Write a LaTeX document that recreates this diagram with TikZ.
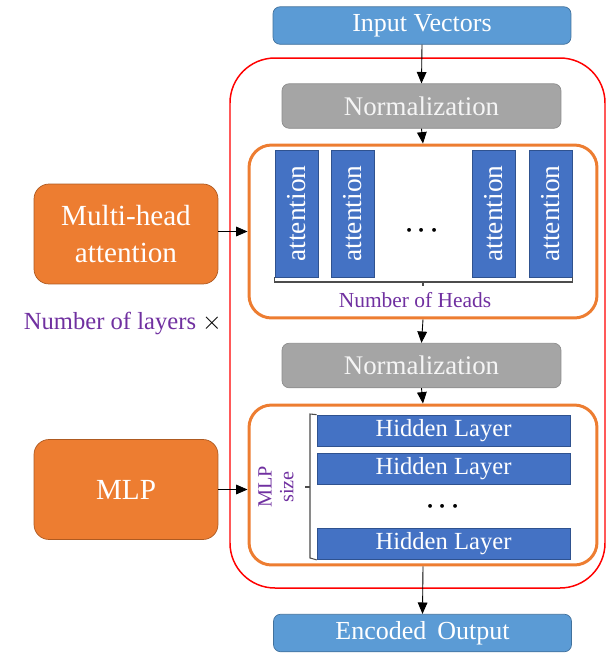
\documentclass[tikz,border=0pt]{standalone}
\usepackage{fontspec}
\setmainfont{Liberation Serif}
\usetikzlibrary{arrows.meta}

\definecolor{inblue}{HTML}{5B9BD5}
\definecolor{inborder}{HTML}{41719C}
\definecolor{attblue}{HTML}{4472C4}
\definecolor{attborder}{HTML}{2F528F}
\definecolor{normgray}{HTML}{A5A5A5}
\definecolor{normborder}{HTML}{8C8C8C}
\definecolor{boxorange}{HTML}{ED7D31}
\definecolor{orangeborder}{HTML}{AE5A21}
\definecolor{labelpurple}{HTML}{7030A0}

\tikzset{
  iobox/.style={draw=inborder, fill=inblue, rounded corners=4pt, minimum width=5.96cm, minimum height=0.75cm, inner sep=0pt, text=white, font=\fontsize{14.8}{17}\selectfont},
  normbox/.style={draw=normborder, fill=normgray, rounded corners=4pt, minimum width=5.58cm, minimum height=0.89cm, inner sep=0pt, text=white!92!gray, font=\fontsize{15.3}{17}\selectfont},
  headbox/.style={draw=attborder, fill=attblue, rotate=90, minimum width=2.54cm, minimum height=0.86cm, inner sep=0pt, text=white, font=\fontsize{15.6}{17}\selectfont},
  hiddenbox/.style={draw=attborder, fill=attblue, minimum width=5.06cm, minimum height=0.62cm, inner sep=0pt, text=white, font=\fontsize{14}{15}\selectfont},
  blockbox/.style={draw=boxorange, line width=1.7pt, rounded corners=0.45cm, minimum width=6.96cm},
  sidebox/.style={draw=orangeborder, fill=boxorange, rounded corners=0.3cm, minimum width=3.68cm, minimum height=2.0cm, inner sep=0pt, text=white, align=center, font=\fontsize{16.6}{21}\selectfont},
  purplelabel/.style={text=labelpurple, inner sep=0pt},
  dotsnode/.style={inner sep=0pt, font=\fontsize{20}{20}\selectfont},
  flow/.style={-{Triangle[length=6.5pt, width=5.5pt]}, black, line width=0.5pt},
  bracket/.style={black!70, line width=0.6pt}
}

\begin{document}
\begin{tikzpicture}[x=0.02cm, y=-0.02cm]
    \useasboundingbox (0,0) rectangle (607,654);

    % encoder layer frame
    \draw [red, line width=0.85pt, rounded corners=0.9cm] (230,58) rectangle (605,588);

    \node [iobox] (inp) at (422,25.5) {Input Vectors};
    \node [normbox] (norm1) at (421.5,106) {Normalization};

    % attention heads
    \node [blockbox, minimum height=3.46cm] (heads) at (423,231.5) {};
    \node [headbox] (att1) at (296.5,213.5) {attention};
    \node [headbox] (att2) at (353,213.5) {attention};
    \node [headbox] (att3) at (493.5,213.5) {attention};
    \node [headbox] (att4) at (550.5,213.5) {attention};
    \node [dotsnode] (hdots) at (422,231) {$\cdot\!\cdot\!\cdot$};
    \draw [bracket] (att1.north |- 0,277) -- (att1.north |- 0,282) -- (att4.south |- 0,282) -- (att4.south |- 0,277);
    \draw [bracket] (423,282) -- (423,286);
    \node [purplelabel, font=\fontsize{12.2}{14}\selectfont] (nheads) at (415,300) {Number of Heads};

    \node [normbox] (norm2) at (421.5,365.5) {Normalization};

    % mlp block
    \node [blockbox, minimum height=3.2cm] (mlpblock) at (423,485) {};
    \node [hiddenbox] (hid1) at (443.5,430.5) {Hidden Layer};
    \node [hiddenbox] (hid2) at (443.5,468.5) {Hidden Layer};
    \node [dotsnode] (vdots) at (443,507) {$\cdot\!\cdot\!\cdot$};
    \node [hiddenbox] (hid3) at (443.5,544) {Hidden Layer};
    \draw [bracket] (hid1.north west) -- (310,414) -- (310,558) -- (hid3.south west);
    \draw [bracket] (310,487) -- (305,487);
    \node [purplelabel, rotate=90, align=center, font=\fontsize{11.5}{12.5}\selectfont] (mlpsize) at (276,487) {MLP\\size};

    \node [iobox] (out) at (422.5,633) {Encoded\, Output};

    % side blocks
    \node [sidebox] (mha) at (126,234) {Multi-head\\attention};
    \node [sidebox] (mlp) at (126,489.5) {MLP};
    \node [purplelabel, font=\fontsize{14}{15}\selectfont] (nlayers) at (110,323) {Number of layers};
    \node [inner sep=0pt, font=\fontsize{13.6}{15}\selectfont] (times) at (212,323) {$\times$};

    % connectors
    \draw [flow] (inp.south) -- (norm1.north);
    \draw [flow] (norm1.south) -- (heads.north);
    \draw [flow] (heads.south) -- (norm2.north);
    \draw [flow] (norm2.south) -- (mlpblock.north);
    \draw [flow] (mlpblock.south) -- (out.north);
    \draw [flow] (mha.east |- heads.west) -- (heads.west);
    \draw [flow] (mlp.east) -- (mlp.east -| mlpblock.west);
\end{tikzpicture}
\end{document}
